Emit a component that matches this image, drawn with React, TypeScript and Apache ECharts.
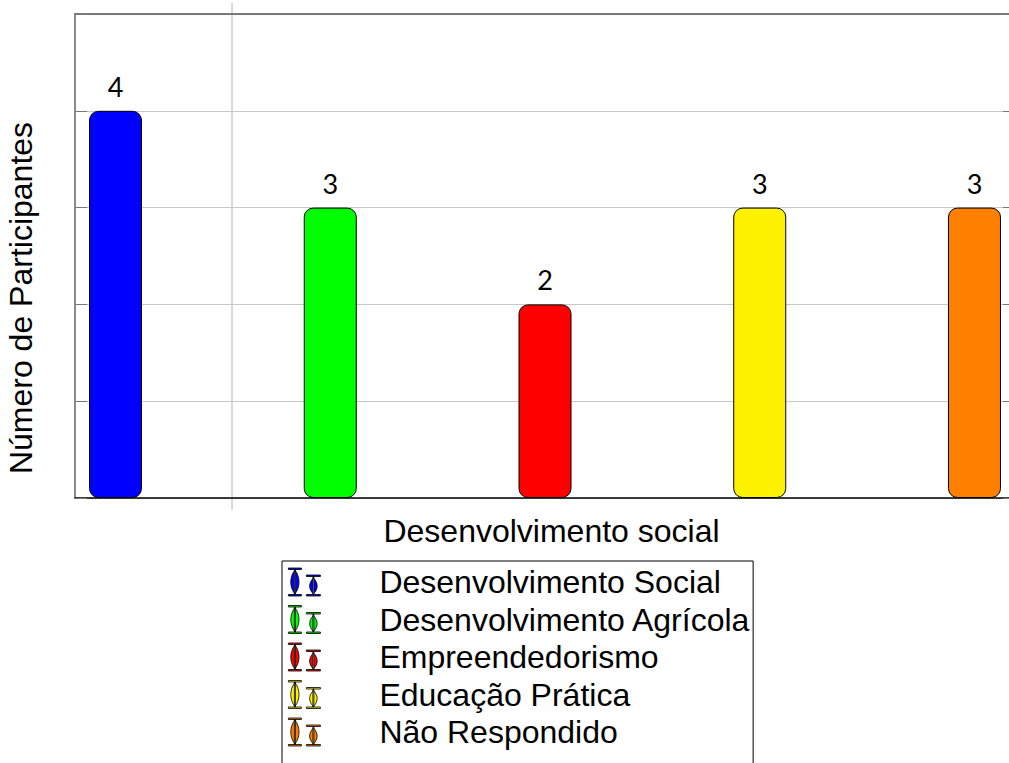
import React, { useEffect, useRef } from "react";
import * as echarts from "echarts";

const categories = [
  "Desenvolvimento Social",
  "Desenvolvimento Agrícola",
  "Empreendedorismo",
  "Educação Prática",
  "Não Respondido",
];
const values = [4, 3, 2, 3, 3];
const colors = ["#0000ff", "#00ff00", "#ff0000", "#fff200", "#ff8000"];
const yTicks = [0, 1, 2, 3, 4, 5];

const xAxisName = "Desenvolvimento social";
const yAxisName = "Número de Participantes";

const legendIcon =
  "path://M1 0L14 0L14 1.5L1 1.5Z M1 26.5L14 26.5L14 28L1 28Z M7 1.5L8 1.5L8 26.5L7 26.5Z " +
  "M7.5 2C2 9 2 19 7.5 26C13 19 13 9 7.5 2Z " +
  "M19 7L33 7L33 8.5L19 8.5Z M19 26.5L33 26.5L33 28L19 28Z M25.5 8.5L26.5 8.5L26.5 26.5L25.5 26.5Z " +
  "M26 10C21 15 21 21 26 26C31 21 31 15 26 10Z";

const CHART_H = 790;
const CHART_W = 1030;

export default function App() {
  const ref = useRef<HTMLDivElement>(null);
  useEffect(() => {
    if (!ref.current) return;
    const chart = echarts.init(ref.current, null, { renderer: "svg" });
    const xMin = -0.1886;
    const xMax = categories.length - 1 + 0.1886;
    chart.setOption({
      animation: false,
      backgroundColor: "#ffffff",
      grid: {
        left: 75,
        top: 14,
        right: CHART_W - 1015,
        bottom: CHART_H - 498,
        containLabel: false,
        outerBoundsMode: "none",
      },
      xAxis: [
        {
          type: "value",
          position: "bottom",
          min: xMin,
          max: xMax,
          axisLine: { show: true, onZero: false, lineStyle: { color: "#000", width: 1.5 } },
          axisTick: { show: false },
          axisLabel: { show: false },
          splitLine: { show: false },
          name: xAxisName,
          nameLocation: "middle",
          nameGap: 17,
          nameTextStyle: {
            fontFamily: "Liberation Sans, Arial, sans-serif",
            fontSize: 32,
            color: "#000",
            padding: [0, 0, 0, 13],
          },
        },
        {
          type: "value",
          position: "top",
          min: xMin,
          max: xMax,
          axisLine: { show: true, onZero: false, lineStyle: { color: "#555", width: 1.5 } },
          axisTick: { show: false },
          axisLabel: { show: false },
          splitLine: { show: false },
        },
      ],
      yAxis: [
        {
          type: "value",
          min: yTicks[0],
          max: yTicks[yTicks.length - 1],
          interval: 1,
          position: "left",
          axisLine: { show: true, onZero: false, lineStyle: { color: "#666", width: 1.5 } },
          axisTick: { show: true, inside: true, length: 12, lineStyle: { color: "#777" } },
          axisLabel: { show: false },
          splitLine: { show: true, lineStyle: { color: "#c8c8c8", width: 1 } },
          name: yAxisName,
          nameLocation: "middle",
          nameRotate: 90,
          nameGap: 38,
          nameTextStyle: {
            fontFamily: "Liberation Sans, Arial, sans-serif",
            fontSize: 32,
            color: "#000",
            padding: [0, 84, 0, 0],
          },
        },
        {
          type: "value",
          min: yTicks[0],
          max: yTicks[yTicks.length - 1],
          interval: 1,
          position: "right",
          axisLine: { show: false, onZero: false },
          axisTick: { show: true, inside: true, length: 12, lineStyle: { color: "#777" } },
          axisLabel: { show: false },
          splitLine: { show: false },
        },
      ],
      legend: {
        orient: "vertical",
        left: 282,
        top: 561,
        padding: [5, 2, 40, 6],
        borderColor: "#000",
        borderWidth: 1,
        itemWidth: 34,
        itemHeight: 28,
        itemGap: 5.5,
        selectedMode: false,
        textStyle: {
          fontFamily: "Liberation Sans, Arial, sans-serif",
          fontSize: 32,
          color: "#000",
          padding: [0, 0, 0, 53],
        },
        data: categories.map((name) => ({
          name,
          icon: legendIcon,
          itemStyle: { borderColor: "#000", borderWidth: 0.8 },
        })),
      },
      graphic: [
        {
          type: "line",
          shape: { x1: 232, y1: 3, x2: 232, y2: 510 },
          style: { stroke: "#b4b4b4", lineWidth: 1 },
          silent: true,
        },
      ],
      series: categories.map((name, i) => ({
        name,
        type: "bar",
        xAxisIndex: 0,
        yAxisIndex: 0,
        barWidth: 53,
        barGap: "-100%",
        data: [[i, values[i]]],
        itemStyle: {
          color: colors[i],
          borderColor: "#000",
          borderWidth: 1,
          borderRadius: 9,
        },
        label: {
          show: true,
          position: "top",
          distance: 11,
          fontFamily: "Lato, sans-serif",
          fontSize: 27,
          color: "#000",
          formatter: (p: any) => String(p.value[1]),
        },
      })),
    });
    return () => chart.dispose();
  }, []);
  return (
    <div style={{ position: "fixed", left: 0, top: 0, width: 1009, height: 763, overflow: "hidden" }}>
      <div ref={ref} style={{ width: CHART_W, height: CHART_H }} />
    </div>
  );
}
